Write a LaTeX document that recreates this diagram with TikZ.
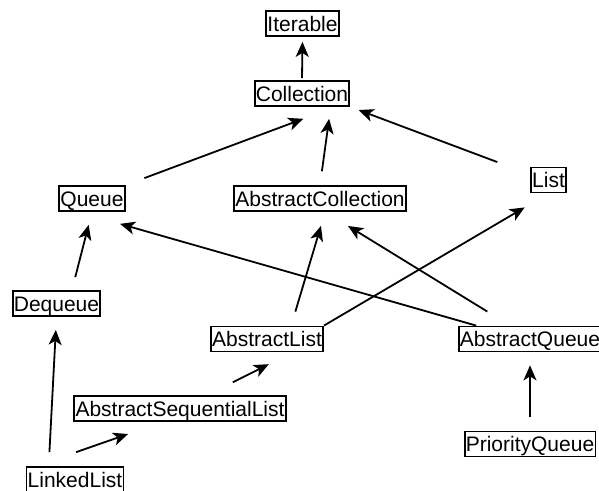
\documentclass[tikz,border=0pt]{standalone}
\usepackage{fontspec}
\setmainfont{Liberation Sans}
\usetikzlibrary{arrows.meta}
\begin{document}
\begin{tikzpicture}[x=0.5pt,y=-0.5pt,
  cls/.style={draw,line width=0.9pt,font=\fontsize{10.5}{12}\selectfont,inner xsep=0.6pt,inner ysep=0.5pt,text height=9.65pt,text depth=1.85pt},
  inh/.style={-{Stealth[length=7.5pt,width=6.5pt,inset=2pt]},line width=0.9pt}]
\useasboundingbox (0,0) rectangle (599,491);
\node[cls] (It) at (302.5,23.5) {Iterable};
\node[cls] (Co) at (302,93.5) {Collection};
\node[cls] (Q) at (92,198.5) {Queue};
\node[cls] (AC) at (320,198.5) {AbstractCollection};
\node[cls] (L) at (548.5,180) {List};
\node[cls] (DQ) at (56.5,303.5) {Dequeue};
\node[cls] (AL) at (267,339) {AbstractList};
\node[cls] (AQ) at (530,339) {AbstractQueue};
\node[cls] (ASL) at (180,408.5) {AbstractSequentialList};
\node[cls] (LL) at (75,479.5) {LinkedList};
\node[cls] (PQ) at (530,444) {PriorityQueue};
\draw[inh,shorten <=1pt,shorten >=2.5pt] (Co.north) -- (It.south);
\draw[inh,shorten <=10pt,shorten >=17pt] (Q.north east) -- (Co.-22);
\draw[inh,shorten <=7pt,shorten >=6pt] (AC.north) -- (Co.-25);
\draw[inh,shorten <=17.5pt,shorten >=4.5pt] (L.163) -- (Co.south east);
\draw[inh,shorten <=7.3pt,shorten >=7.3pt] (AL.29) -- (AC.-69);
\draw[inh,shorten <=13.4pt,shorten >=13.4pt] (AQ.146) -- (AC.-69);
\draw[inh,shorten >=13.8pt] (AL.north east) -- (L.south);
\draw[inh,shorten >=21.8pt] (AQ.166) -- (Q.-136);
\draw[inh,shorten <=6.7pt,shorten >=6.7pt] (DQ.41) -- (Q.south);
\draw[inh,shorten <=7pt,shorten >=6.5pt] (LL.153) -- (DQ.south);
\draw[inh,shorten <=21.2pt,shorten >=18.4pt] (LL.161) -- (ASL.-142);
\draw[inh,shorten <=14.2pt,shorten >=13.1pt] (ASL.26) -- (AL.-28);
\draw[inh,shorten <=7pt,shorten >=6.5pt] (PQ.north) -- (AQ.south);
\end{tikzpicture}
\end{document}
